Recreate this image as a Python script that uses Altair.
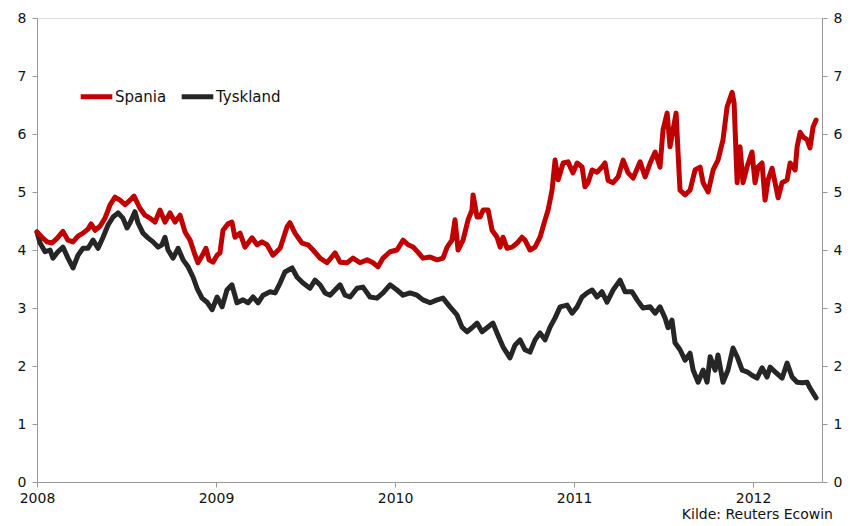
import altair as alt
import pandas as pd

# Spania (red) 10-year yield, decimal year vs %
years_es = [2008.000, 2008.028, 2008.056, 2008.084, 2008.112, 2008.145, 2008.173, 2008.201, 2008.229, 2008.257,
            2008.285, 2008.302, 2008.324, 2008.352, 2008.380, 2008.408, 2008.436, 2008.464, 2008.492, 2008.520,
            2008.542, 2008.575, 2008.603, 2008.631, 2008.659, 2008.687, 2008.715, 2008.743, 2008.771, 2008.799,
            2008.827, 2008.855, 2008.883, 2008.899, 2008.922, 2008.944, 2008.961, 2008.983, 2009.006, 2009.022,
            2009.039, 2009.067, 2009.089, 2009.106, 2009.134, 2009.162, 2009.201, 2009.229, 2009.257, 2009.285,
            2009.318, 2009.358, 2009.397, 2009.413, 2009.441, 2009.480, 2009.514, 2009.542, 2009.581, 2009.620,
            2009.665, 2009.693, 2009.732, 2009.765, 2009.804, 2009.844, 2009.877, 2009.905, 2009.933, 2009.972,
            2010.011, 2010.045, 2010.073, 2010.101, 2010.123, 2010.156, 2010.196, 2010.235, 2010.268, 2010.291,
            2010.318, 2010.335, 2010.352, 2010.380, 2010.408, 2010.430, 2010.436, 2010.458, 2010.475, 2010.492,
            2010.520, 2010.542, 2010.570, 2010.587, 2010.603, 2010.626, 2010.654, 2010.682, 2010.709, 2010.726,
            2010.754, 2010.782, 2010.810, 2010.838, 2010.855, 2010.877, 2010.894, 2010.911, 2010.939, 2010.966,
            2010.994, 2011.017, 2011.045, 2011.061, 2011.078, 2011.101, 2011.128, 2011.156, 2011.173, 2011.190,
            2011.218, 2011.246, 2011.274, 2011.302, 2011.330, 2011.369, 2011.397, 2011.425, 2011.453, 2011.480,
            2011.497, 2011.520, 2011.536, 2011.553, 2011.570, 2011.581, 2011.592, 2011.620, 2011.648, 2011.676,
            2011.704, 2011.721, 2011.749, 2011.777, 2011.804, 2011.832, 2011.855, 2011.883, 2011.894, 2011.911,
            2011.927, 2011.944, 2011.966, 2011.994, 2012.011, 2012.028, 2012.050, 2012.067, 2012.084, 2012.106,
            2012.123, 2012.140, 2012.162, 2012.190, 2012.207, 2012.235, 2012.246, 2012.263, 2012.279, 2012.302,
            2012.318, 2012.335, 2012.352]
vals_es = [4.31, 4.22, 4.14, 4.12, 4.20, 4.32, 4.17, 4.14, 4.24, 4.29,
           4.36, 4.45, 4.34, 4.41, 4.55, 4.78, 4.91, 4.86, 4.78, 4.86,
           4.93, 4.72, 4.60, 4.55, 4.48, 4.69, 4.48, 4.64, 4.48, 4.60,
           4.31, 4.17, 3.91, 3.78, 3.90, 4.03, 3.83, 3.79, 3.91, 3.95,
           4.34, 4.45, 4.48, 4.22, 4.29, 4.05, 4.21, 4.09, 4.14, 4.09,
           3.91, 4.03, 4.40, 4.47, 4.29, 4.12, 4.09, 4.00, 3.86, 3.78,
           3.95, 3.79, 3.78, 3.86, 3.78, 3.83, 3.78, 3.71, 3.86, 3.97,
           4.00, 4.17, 4.09, 4.05, 3.98, 3.86, 3.88, 3.83, 3.86, 4.05,
           4.17, 4.52, 4.00, 4.17, 4.52, 4.69, 4.95, 4.57, 4.57, 4.69,
           4.69, 4.34, 4.22, 4.05, 4.22, 4.03, 4.05, 4.12, 4.22, 4.17,
           4.00, 4.05, 4.22, 4.52, 4.69, 5.03, 5.55, 5.21, 5.50, 5.52,
           5.33, 5.50, 5.43, 5.09, 5.16, 5.38, 5.34, 5.43, 5.50, 5.20,
           5.16, 5.26, 5.55, 5.33, 5.24, 5.52, 5.26, 5.50, 5.69, 5.43,
           6.07, 6.36, 5.78, 6.07, 6.36, 5.67, 5.03, 4.95, 5.03, 5.38,
           5.43, 5.16, 5.00, 5.38, 5.55, 5.90, 6.47, 6.72, 6.53, 5.16,
           5.78, 5.16, 5.43, 5.69, 5.16, 5.43, 5.50, 4.86, 5.21, 5.41,
           5.16, 4.90, 5.16, 5.21, 5.50, 5.38, 5.78, 6.03, 5.95, 5.90,
           5.76, 6.12, 6.24]

# Tyskland (black) 10-year yield
years_de = [2008.000, 2008.017, 2008.045, 2008.073, 2008.089, 2008.117, 2008.145, 2008.173, 2008.201, 2008.229,
            2008.257, 2008.285, 2008.313, 2008.341, 2008.369, 2008.397, 2008.425, 2008.453, 2008.480, 2008.503,
            2008.520, 2008.547, 2008.564, 2008.592, 2008.620, 2008.648, 2008.676, 2008.698, 2008.715, 2008.732,
            2008.760, 2008.788, 2008.816, 2008.844, 2008.872, 2008.894, 2008.922, 2008.950, 2008.978, 2009.006,
            2009.034, 2009.061, 2009.089, 2009.117, 2009.151, 2009.179, 2009.207, 2009.235, 2009.263, 2009.302,
            2009.330, 2009.358, 2009.385, 2009.425, 2009.453, 2009.486, 2009.525, 2009.553, 2009.581, 2009.609,
            2009.637, 2009.665, 2009.693, 2009.721, 2009.749, 2009.788, 2009.821, 2009.860, 2009.899, 2009.933,
            2009.972, 2010.011, 2010.045, 2010.084, 2010.123, 2010.156, 2010.196, 2010.235, 2010.268, 2010.307,
            2010.346, 2010.374, 2010.402, 2010.430, 2010.458, 2010.486, 2010.514, 2010.547, 2010.575, 2010.603,
            2010.642, 2010.670, 2010.698, 2010.726, 2010.754, 2010.782, 2010.810, 2010.838, 2010.866, 2010.894,
            2010.922, 2010.961, 2010.989, 2011.017, 2011.045, 2011.073, 2011.101, 2011.128, 2011.156, 2011.184,
            2011.218, 2011.257, 2011.285, 2011.324, 2011.352, 2011.385, 2011.425, 2011.453, 2011.480, 2011.508,
            2011.525, 2011.547, 2011.564, 2011.592, 2011.620, 2011.648, 2011.665, 2011.693, 2011.721, 2011.743,
            2011.760, 2011.788, 2011.804, 2011.832, 2011.860, 2011.888, 2011.911, 2011.939, 2011.966, 2011.994,
            2012.022, 2012.050, 2012.078, 2012.095, 2012.123, 2012.162, 2012.190, 2012.218, 2012.246, 2012.274,
            2012.302, 2012.318, 2012.352]
vals_de = [4.31, 4.12, 3.97, 4.00, 3.86, 3.97, 4.05, 3.86, 3.69, 3.91,
           4.03, 4.03, 4.17, 4.03, 4.22, 4.43, 4.57, 4.64, 4.55, 4.38,
           4.47, 4.66, 4.47, 4.29, 4.21, 4.14, 4.05, 4.09, 4.22, 4.00,
           3.86, 4.03, 3.83, 3.71, 3.53, 3.34, 3.17, 3.10, 2.97, 3.19,
           3.02, 3.31, 3.40, 3.09, 3.14, 3.09, 3.19, 3.09, 3.22, 3.28,
           3.26, 3.43, 3.62, 3.69, 3.53, 3.43, 3.34, 3.48, 3.40, 3.26,
           3.22, 3.31, 3.40, 3.22, 3.19, 3.34, 3.36, 3.19, 3.17, 3.26,
           3.40, 3.31, 3.22, 3.26, 3.22, 3.14, 3.09, 3.14, 3.17, 3.02,
           2.88, 2.67, 2.59, 2.66, 2.74, 2.59, 2.66, 2.74, 2.53, 2.33,
           2.14, 2.36, 2.45, 2.28, 2.24, 2.45, 2.57, 2.45, 2.67, 2.83,
           3.02, 3.05, 2.91, 3.02, 3.19, 3.26, 3.31, 3.19, 3.28, 3.10,
           3.31, 3.48, 3.28, 3.28, 3.14, 3.00, 3.02, 2.91, 3.02, 2.83,
           2.66, 2.79, 2.40, 2.28, 2.10, 2.22, 1.93, 1.72, 1.93, 1.72,
           2.16, 1.93, 2.19, 1.72, 1.93, 2.31, 2.16, 1.93, 1.90, 1.84,
           1.79, 1.97, 1.81, 1.98, 1.90, 1.79, 2.05, 1.81, 1.72, 1.71,
           1.72, 1.62, 1.45]

series_names = ["Spania", "Tyskland"]
series_colors = ["#C00000", "#262626"]
year_ticks = [2008, 2009, 2010, 2011, 2012]
y_ticks = [0, 1, 2, 3, 4, 5, 6, 7, 8]
source_text = ["Kilde:  Reuters Ecowin"]

df = pd.concat([
    pd.DataFrame({"year": years_es, "value": vals_es, "series": "Spania"}),
    pd.DataFrame({"year": years_de, "value": vals_de, "series": "Tyskland"}),
])

FONT = "DejaVu Sans"
x_enc = alt.X("year:Q",
              scale=alt.Scale(domain=[2008, 2012.385], nice=False, zero=False),
              axis=alt.Axis(values=year_ticks, format="d", title=None, grid=False,
                            labelFont=FONT, labelFontSize=14, labelColor="#111",
                            domainColor="#999", tickColor="#999", tickSize=5,
                            labelPadding=4, labelFlush=False))
y_scale = alt.Scale(domain=[0, 8], nice=False)
color_enc = alt.Color("series:N",
                      scale=alt.Scale(domain=series_names, range=series_colors),
                      legend=alt.Legend(title=None, orient="none", legendX=41, legendY=60,
                                        direction="horizontal", symbolType="stroke",
                                        symbolStrokeWidth=5, symbolSize=1000,
                                        labelFont=FONT, labelFontSize=15,
                                        labelColor="#111", labelOffset=0, columnPadding=4,
                                        padding=0))

def y_axis(orient):
    return alt.Axis(values=y_ticks, title=None, grid=False, orient=orient,
                    labelFont=FONT, labelFontSize=14, labelColor="#111",
                    domainColor="#999", tickColor="#999", tickSize=5, labelPadding=6)

base = alt.Chart(df)
de_line = base.transform_filter(alt.datum.series == "Tyskland").mark_line(
    strokeWidth=5, strokeJoin="round", strokeCap="round").encode(
    x=x_enc, y=alt.Y("value:Q", scale=y_scale, axis=y_axis("left")), color=color_enc)
es_line = base.transform_filter(alt.datum.series == "Spania").mark_line(
    strokeWidth=5, strokeJoin="round", strokeCap="round").encode(
    x=x_enc, y=alt.Y("value:Q", scale=y_scale, axis=y_axis("left")), color=color_enc)

right = base.mark_line(opacity=0).encode(
    x=x_enc, y=alt.Y("value:Q", scale=y_scale, axis=y_axis("right")), detail="series:N")

src = alt.Chart(pd.DataFrame({"t": source_text})).mark_text(
    align="right", baseline="middle", font=FONT, fontSize=14, color="#111").encode(
    text="t:N", x=alt.value(796), y=alt.value(497))

lines = alt.layer(de_line, es_line)
chart = alt.layer(lines, right, src).resolve_scale(y="independent").properties(
    width=785, height=464,
    padding={"left": 29, "top": 10, "right": 20, "bottom": 42},
    autosize=alt.AutoSizeParams(type="none"),
).configure_view(stroke="#999", strokeWidth=1).configure(background="white")

chart.save("out.html", embed_options={"renderer": "svg", "actions": False})
